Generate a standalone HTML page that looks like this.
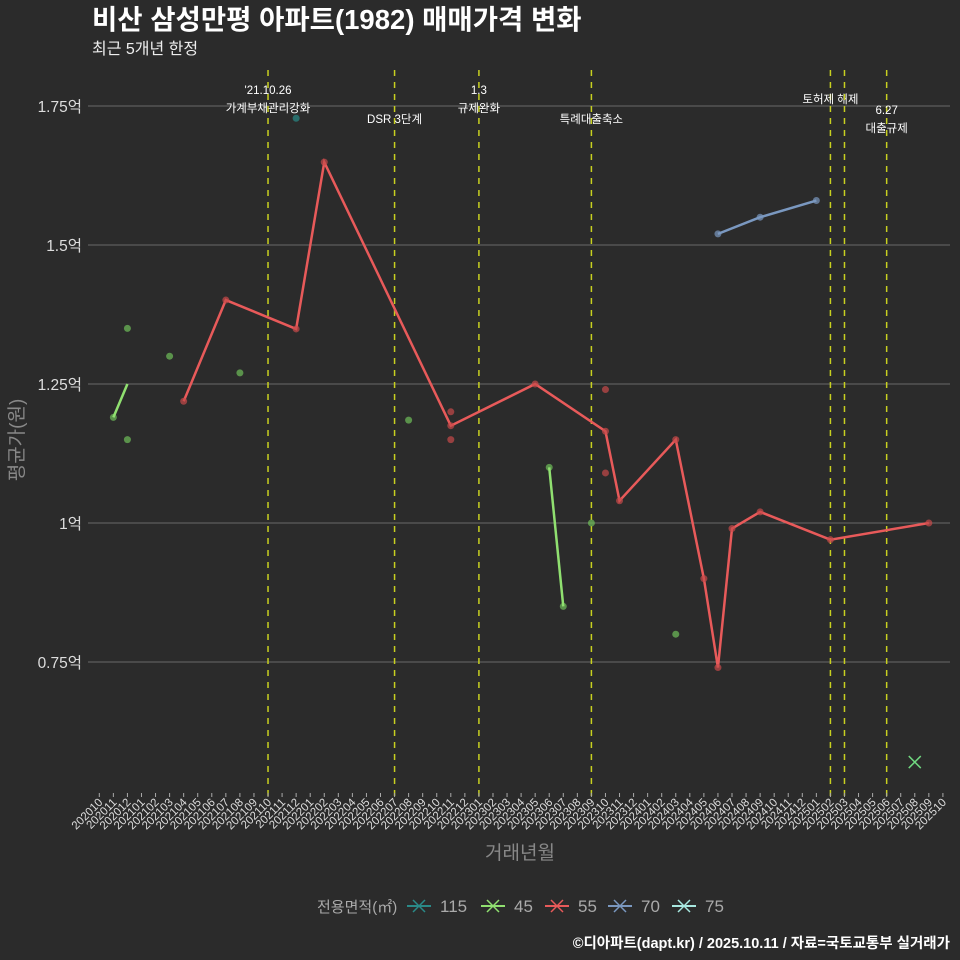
<!DOCTYPE html>
<html><head><meta charset="utf-8">
<style>
body{margin:0;background:#2b2b2b;}
svg{display:block;font-family:"Liberation Sans","Noto Sans CJK KR",sans-serif;}
</style></head>
<body>
<svg id="chart" width="960" height="960" viewBox="0 0 960 960">
<rect width="960" height="960" fill="#2b2b2b"/>
<text x="92" y="29" fill="#fff" font-size="27.5" font-weight="bold">비산 삼성만평 아파트(1982) 매매가격 변화</text>
<text x="92" y="54" fill="#eee" font-size="16">최근 5개년 한정</text>
<g id="grid"></g><g id="events"></g><g id="series"></g><g id="xaxis"></g><g id="yaxis"></g>
<text x="520" y="859" fill="#888" font-size="19" text-anchor="middle">거래년월</text>
<text transform="translate(23,440) rotate(-90)" fill="#888" font-size="19" text-anchor="middle">평균가(원)</text>
<g id="legend"></g>
<text x="950" y="948" fill="#fff" font-size="14.5" font-weight="bold" text-anchor="end">©디아파트(dapt.kr) / 2025.10.11 / 자료=국토교통부 실거래가</text>
</svg>
<script>
const months=[];for(let i=0;i<61;i++){const y=2020+Math.floor((9+i)/12),m=(9+i)%12+1;months.push(''+y+(m<10?'0':'')+m);}
const yTicks=[0.75,1,1.25,1.5,1.75];
const yTickLabels=['0.75억','1억','1.25억','1.5억','1.75억'];
const s55Months=['202104','202107','202112','202202','202211','202305','202310','202311','202403','202405','202406','202407','202409','202502','202509'];
const s55Values=[1.219,1.401,1.349,1.649,1.175,1.25,1.165,1.04,1.15,0.90,0.74,0.99,1.02,0.97,1.0];
const s55ExtraMonths=['202211','202211','202310','202310'];
const s55ExtraValues=[1.20,1.15,1.24,1.09];
const s45LineA=[['202011',1.19],['202012',1.25]];
const s45LineB=[['202306',1.10],['202307',0.85]];
const s45PointMonths=['202011','202012','202012','202103','202108','202208','202306','202307','202309','202403'];
const s45PointValues=[1.19,1.35,1.15,1.30,1.27,1.185,1.10,0.85,1.0,0.80];
const s115Months=['202112'];const s115Values=[1.728];
const s70Months=['202406','202409','202501'];const s70Values=[1.52,1.55,1.58];
const s75Months=['202508'];const s75Values=[0.57];
const eventMonths=['202110','202207','202301','202309','202502','202503','202506'];
const eventLabels=[["'21.10.26","가계부채관리강화"],["DSR 3단계"],["1.3","규제완화"],["특례대출축소"],["토허제 해제"],[],["6.27","대출규제"]];
const eventLabelY=[[94,112],[123],[94,112],[123],[103],[],[114,132]];
const colors={'115':'#2a8a88','45':'#90e070','55':'#e85a5a','70':'#7a98c0','75':'#a8e8e0'};
const NS='http://www.w3.org/2000/svg';
const X=m=>99.3+14.06*months.indexOf(m);
const Y=v=>523-(v-1)*556;
function mk(tag,attrs,parent){const e=document.createElementNS(NS,tag);for(const k in attrs)e.setAttribute(k,attrs[k]);parent.appendChild(e);return e;}
const grid=document.getElementById('grid'),yax=document.getElementById('yaxis');
yTicks.forEach((v,i)=>{
 const l=mk('line',{x1:88,x2:950,y1:Y(v),y2:Y(v),stroke:'#6a6a6a','stroke-width':1},grid);
 
 
 const t=mk('text',{x:82,y:Y(v)+6,fill:'#ddd','font-size':15.5,'text-anchor':'end'},yax);
 t.textContent=yTickLabels[i];
 
 
});
const xax=document.getElementById('xaxis');
months.forEach(m=>{
 const x=X(m);
 const tk=mk('line',{x1:x,x2:x,y1:793,y2:797,stroke:'#aaa'},xax);
 
 
 const t=mk('text',{transform:`translate(${x+4},${803}) rotate(-45)`,fill:'#ddd','font-size':11.5,'text-anchor':'end'},xax);
 t.textContent=m;
 
 
});
const ev=document.getElementById('events');
eventMonths.forEach((m,i)=>{
 const x=X(m);
 const l=mk('line',{x1:x,x2:x,y1:70,y2:796,stroke:'#c8d020','stroke-width':1.5,'stroke-dasharray':'6,6'},ev);
 
 
 eventLabels[i].forEach((s,j)=>{
  const t=mk('text',{x:x,y:eventLabelY[i][j],fill:'#fff','font-size':11.5,'text-anchor':'middle'},ev);
  t.textContent=s;
  
  
 });
});
const sg=document.getElementById('series');
function line(pts,c,name){const p=mk('polyline',{points:pts.map(q=>X(q[0])+','+Y(q[1])).join(' '),fill:'none',stroke:c,'stroke-width':2.5},sg);
 
 }
function pts(ms,vs,c,name){ms.forEach((m,i)=>{const e=mk('circle',{cx:X(m),cy:Y(vs[i]),r:3.5,fill:c,'fill-opacity':0.7},sg);
 
 });}
pts(s45PointMonths,s45PointValues,'#6fbf5a','point-45');
line(s45LineA,colors['45'],'line-45-a');line(s45LineB,colors['45'],'line-45-b');
pts(s115Months,s115Values,colors['115'],'point-115');
pts(s55ExtraMonths,s55ExtraValues,'#c84a4a','point-55');
line(s55Months.map((m,i)=>[m,s55Values[i]]),colors['55'],'line-55');
pts(s55Months,s55Values,'#c84a4a','point-55');
line(s70Months.map((m,i)=>[m,s70Values[i]]),colors['70'],'line-70');
pts(s70Months,s70Values,'#7a98c0','point-70');
s75Months.forEach((m,i)=>{const x=X(m),y=Y(s75Values[i]);
 const p=mk('path',{d:`M${x-6},${y-6}L${x+6},${y+6}M${x-6},${y+6}L${x+6},${y-6}`,stroke:'#70d880','stroke-width':1.5},sg);
 
 });
const lg=document.getElementById('legend');
const t0=mk('text',{x:317,y:912,fill:'#aaa','font-size':15},lg);t0.textContent='전용면적(㎡)';


[['115',407],['45',481],['55',545],['70',608],['75',672]].forEach(([k,x])=>{
 const g=mk('g',{},lg);
 
 
 mk('line',{x1:x,x2:x+24,y1:906,y2:906,stroke:colors[k],'stroke-width':2},g);
 mk('path',{d:`M${x+6},${900}L${x+18},${912}M${x+6},${912}L${x+18},${900}`,stroke:colors[k],'stroke-width':1.5},g);
 const t=mk('text',{x:x+33,y:912,fill:'#aaa','font-size':17},g);t.textContent=k;
});
</script>
</body></html>
